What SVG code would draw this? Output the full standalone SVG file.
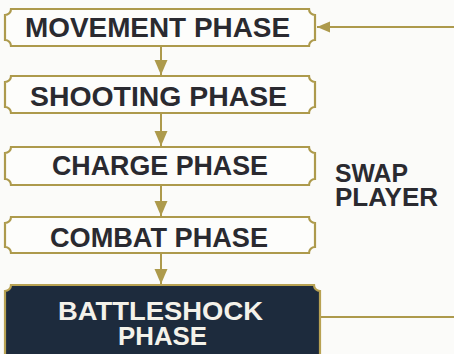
<svg xmlns="http://www.w3.org/2000/svg" width="454" height="354" viewBox="0 0 454 354">
<style>
.box{fill:#fdfdfb;stroke:#ad9a4c;stroke-width:2.2}
.dark{fill:#1d2b3d;stroke:#b8a253;stroke-width:2.2}
.lbl{font-family:"Liberation Sans",Arial,sans-serif;font-size:28px;fill:#2a2a30;font-weight:bold}
.wl{font-family:"Liberation Sans",Arial,sans-serif;font-size:26px;fill:#f4f2ea;font-weight:bold}
.side{font-family:"Liberation Sans",Arial,sans-serif;font-size:26px;fill:#2a2a30;font-weight:bold}
.con{stroke:#ad9a4c;stroke-width:2;fill:none}
</style>
<defs>
<marker id="ah" markerUnits="userSpaceOnUse" markerWidth="16" markerHeight="14" refX="15" refY="6.5" orient="auto">
<path d="M0,0 L15,6.5 L0,13 Z" fill="#ad9a4c"/>
</marker>
<marker id="ah2" markerUnits="userSpaceOnUse" markerWidth="14" markerHeight="12" refX="13" refY="5.5" orient="auto">
<path d="M0,0 L13,5.5 L0,11 Z" fill="#ad9a4c"/>
</marker>
</defs>
<rect width="454" height="354" fill="#fbfbf9"/>
<g id="connectors">
<line class="con" x1="161" y1="47" x2="161" y2="75" marker-end="url(#ah)"/>
<line class="con" x1="161" y1="114" x2="161" y2="146" marker-end="url(#ah)"/>
<line class="con" x1="161" y1="186" x2="161" y2="216" marker-end="url(#ah)"/>
<line class="con" x1="161" y1="254" x2="161" y2="284" marker-end="url(#ah)"/>
<line class="con" x1="321" y1="317" x2="454" y2="317"/>
<line class="con" x1="454" y1="27" x2="317" y2="27" marker-end="url(#ah2)"/>
</g>
<g id="movement">
<path class="box" d="M11,9 H309 A6,6 0 0 0 315,15 V40 A6,6 0 0 0 309,46 H11 A6,6 0 0 0 5,40 V15 A6,6 0 0 0 11,9 Z"/>
<text class="lbl" x="25" y="37" textLength="265" lengthAdjust="spacingAndGlyphs">MOVEMENT PHASE</text>
</g>
<g id="shooting">
<path class="box" d="M11,76 H309 A6,6 0 0 0 315,82 V107 A6,6 0 0 0 309,113 H11 A6,6 0 0 0 5,107 V82 A6,6 0 0 0 11,76 Z"/>
<text class="lbl" x="30" y="106" textLength="257" lengthAdjust="spacingAndGlyphs">SHOOTING PHASE</text>
</g>
<g id="charge">
<path class="box" d="M11,147 H309 A6,6 0 0 0 315,153 V179 A6,6 0 0 0 309,185 H11 A6,6 0 0 0 5,179 V153 A6,6 0 0 0 11,147 Z"/>
<text class="lbl" x="52" y="175" textLength="216" lengthAdjust="spacingAndGlyphs">CHARGE PHASE</text>
</g>
<g id="combat">
<path class="box" d="M11,217 H309 A6,6 0 0 0 315,223 V247 A6,6 0 0 0 309,253 H11 A6,6 0 0 0 5,247 V223 A6,6 0 0 0 11,217 Z"/>
<text class="lbl" x="50" y="247" textLength="218" lengthAdjust="spacingAndGlyphs">COMBAT PHASE</text>
</g>
<g id="battleshock">
<path class="dark" d="M11,285 H314 A6,6 0 0 0 320,291 V360 H5 V291 A6,6 0 0 0 11,285 Z"/>
<text class="wl" x="58" y="320" textLength="205" lengthAdjust="spacingAndGlyphs">BATTLESHOCK</text>
<text class="wl" x="118" y="345" textLength="89" lengthAdjust="spacingAndGlyphs">PHASE</text>
</g>
<g id="swap">
<text class="side" x="335" y="182" textLength="73" lengthAdjust="spacingAndGlyphs">SWAP</text>
<text class="side" x="335" y="206" textLength="103" lengthAdjust="spacingAndGlyphs">PLAYER</text>
</g>
</svg>
